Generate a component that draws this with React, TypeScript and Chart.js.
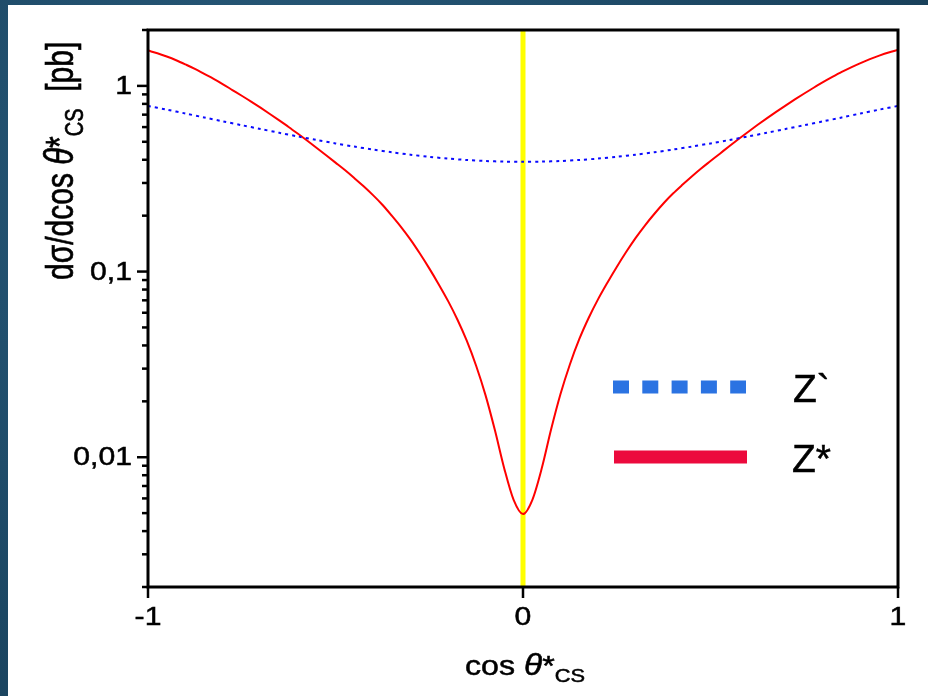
import { useEffect, useRef } from 'react';
import { Chart, registerables } from 'chart.js';

Chart.register(...registerables);

// cos(theta*_CS) bin centres (width 0.025)
const cosThetaBins = [
  -1, -0.975, -0.95, -0.925, -0.9, -0.875, -0.85, -0.825, -0.8, -0.775,
  -0.75, -0.725, -0.7, -0.675, -0.65, -0.625, -0.6, -0.575, -0.55, -0.525,
  -0.5, -0.475, -0.45, -0.425, -0.4, -0.375, -0.35, -0.325, -0.3, -0.275,
  -0.25, -0.225, -0.2, -0.175, -0.15, -0.125, -0.1, -0.075, -0.05, -0.025,
  0,
  0.025, 0.05, 0.075, 0.1, 0.125, 0.15, 0.175, 0.2, 0.225, 0.25,
  0.275, 0.3, 0.325, 0.35, 0.375, 0.4, 0.425, 0.45, 0.475, 0.5,
  0.525, 0.55, 0.575, 0.6, 0.625, 0.65, 0.675, 0.7, 0.725, 0.75,
  0.775, 0.8, 0.825, 0.85, 0.875, 0.9, 0.925, 0.95, 0.975, 1,
];

// Z* : dsigma/dcos [pb]
const zStarValues = [
  1.55, 1.5, 1.44, 1.375, 1.305, 1.235, 1.16, 1.09, 1.02, 0.95,
  0.885, 0.823, 0.763, 0.706, 0.652, 0.601, 0.552, 0.506, 0.463, 0.423,
  0.386, 0.352, 0.319, 0.288, 0.258, 0.229, 0.2, 0.1735, 0.1485, 0.125,
  0.104, 0.0855, 0.0695, 0.0552, 0.0424, 0.0311, 0.0216, 0.014, 0.0087, 0.00589,
  0.00494,
  0.0059, 0.00871, 0.01413, 0.02188, 0.0316, 0.0432, 0.0562, 0.0708, 0.0871, 0.1059,
  0.1274, 0.1514, 0.177, 0.2042, 0.2333, 0.263, 0.2931, 0.3251, 0.3589, 0.3936,
  0.4315, 0.4732, 0.5176, 0.5649, 0.6152, 0.6683, 0.7244, 0.7834, 0.8453, 0.9099,
  0.9772, 1.0471, 1.1169, 1.1885, 1.2589, 1.3274, 1.3932, 1.4555, 1.5136, 1.5631,
];

// Z` curve sample points
const cosThetaPrime = [
  -1, -0.95, -0.9, -0.85, -0.8, -0.75, -0.7, -0.65, -0.6, -0.55,
  -0.5, -0.45, -0.4, -0.35, -0.3, -0.25, -0.2, -0.15, -0.1, -0.05,
  0,
  0.05, 0.1, 0.15, 0.2, 0.25, 0.3, 0.35, 0.4, 0.45, 0.5,
  0.55, 0.6, 0.65, 0.7, 0.75, 0.8, 0.85, 0.9, 0.95, 1,
];
const zPrimeValues = [
  0.78, 0.745, 0.71, 0.676, 0.644, 0.614, 0.586, 0.559, 0.534, 0.511,
  0.49, 0.471, 0.454, 0.439, 0.426, 0.415, 0.406, 0.399, 0.394, 0.391,
  0.39,
  0.391, 0.394, 0.399, 0.406, 0.415, 0.426, 0.439, 0.454, 0.471, 0.49,
  0.511, 0.534, 0.559, 0.586, 0.614, 0.644, 0.676, 0.71, 0.745, 0.78,
];

// yellow marker at cos = 0
const markerX = [0, 0];
const markerY = [0.002, 2];

const xMin = -1;
const xMax = 1;
const yMin = 0.002;
const yMax = 2;

const xTicks = [-1, 0, 1];
const xTickLabels = ['-1', '0', '1'];
const yMajorTicks = [0.01, 0.1, 1];
const yTickLabels = ['0,01', '0,1', '1'];
const yDecades = [0.001, 0.01, 0.1, 1];
const yMinorMultipliers = [2, 3, 4, 5, 6, 7, 8, 9];
const legendLabels = ['Z`', 'Z*'];

const FONT = '"Liberation Sans", Arial, Helvetica, sans-serif';

function fillBold(ctx: CanvasRenderingContext2D, s: string, x: number, y: number) {
  ctx.fillText(s, x, y);
  ctx.lineWidth = 0.5;
  ctx.strokeText(s, x, y);
}

function drawText(
  ctx: CanvasRenderingContext2D,
  s: string,
  x: number,
  y: number,
  font: string,
  align: CanvasTextAlign,
  baseline: CanvasTextBaseline,
  sx = 1.16,
) {
  ctx.save();
  ctx.translate(x, y);
  ctx.scale(sx, 1);
  ctx.font = font;
  ctx.textAlign = align;
  ctx.textBaseline = baseline;
  fillBold(ctx, s, 0, 0);
  ctx.restore();
}

const framePlugin = {
  id: 'frameAndText',
  afterDatasetsDraw(chart: any) {
    const ctx: CanvasRenderingContext2D = chart.ctx;
    const { left, right, top, bottom } = chart.chartArea;
    const xs = chart.scales.x;
    const ys = chart.scales.y;
    ctx.save();
    ctx.fillStyle = '#000';
    ctx.strokeStyle = '#000';

    // frame
    ctx.lineWidth = 3;
    ctx.strokeRect(left, top, right - left, bottom - top);

    // y ticks
    ctx.lineWidth = 2.5;
    yDecades.forEach((d) => {
      [1, ...yMinorMultipliers].forEach((m) => {
        const v = m * d;
        if (v < yMin * 0.999 || v > yMax * 1.001) return;
        const py = ys.getPixelForValue(v);
        const len = m === 1 ? 11 : 6;
        ctx.beginPath();
        ctx.moveTo(left, py);
        ctx.lineTo(left - len, py);
        ctx.stroke();
      });
    });
    // x ticks
    xTicks.forEach((t) => {
      const px = xs.getPixelForValue(t);
      ctx.beginPath();
      ctx.moveTo(px, bottom);
      ctx.lineTo(px, bottom + 11);
      ctx.stroke();
    });

    // tick labels
    yMajorTicks.forEach((v, i) => {
      drawText(ctx, yTickLabels[i], left - 16, ys.getPixelForValue(v) + 1, `26px ${FONT}`, 'right', 'middle');
    });
    xTicks.forEach((t, i) => {
      drawText(ctx, xTickLabels[i], xs.getPixelForValue(t), bottom + 18, `26px ${FONT}`, 'center', 'top');
    });

    // x title: cos θ*_CS
    {
      const parts = [
        { s: 'cos ', f: `28px ${FONT}`, dy: 0 },
        { s: 'θ', f: `italic 29px ${FONT}`, dy: 0 },
        { s: '*', f: `28px ${FONT}`, dy: 0 },
        { s: 'CS', f: `19px ${FONT}`, dy: 7 },
      ];
      ctx.save();
      let total = 0;
      parts.forEach((p) => {
        ctx.font = p.f;
        total += ctx.measureText(p.s).width;
      });
      const cx = (left + right) / 2 + 2;
      ctx.translate(cx, bottom + 88);
      ctx.scale(1.15, 1);
      let x = -total / 2;
      ctx.textAlign = 'left';
      ctx.textBaseline = 'alphabetic';
      parts.forEach((p) => {
        ctx.font = p.f;
        fillBold(ctx, p.s, x, p.dy);
        x += ctx.measureText(p.s).width;
      });
      ctx.restore();
    }

    // y title: dσ/dcos θ*_CS [pb]
    {
      const parts = [
        { s: 'dσ/dcos ', f: `30px ${FONT}`, dy: 0 },
        { s: 'θ', f: `italic 31px ${FONT}`, dy: 0 },
        { s: '*', f: `30px ${FONT}`, dy: 0 },
        { s: 'CS', f: `20px ${FONT}`, dy: 8 },
        { s: '  [pb]', f: `30px ${FONT}`, dy: 0 },
      ];
      ctx.save();
      ctx.translate(left - 75, top + 250);
      ctx.scale(1.3, 1);
      ctx.rotate(-Math.PI / 2);
      ctx.textAlign = 'left';
      ctx.textBaseline = 'alphabetic';
      let x = 0;
      parts.forEach((p) => {
        ctx.font = p.f;
        fillBold(ctx, p.s, x, p.dy);
        x += ctx.measureText(p.s).width;
      });
      ctx.restore();
    }

    // legend
    const lx = left + 465;
    const ly1 = top + 357;
    const ly2 = top + 427;
    ctx.lineCap = 'butt';
    ctx.lineWidth = 13;
    ctx.strokeStyle = '#2B73E2';
    ctx.setLineDash([16, 13.3]);
    ctx.beginPath();
    ctx.moveTo(lx, ly1);
    ctx.lineTo(lx + 133, ly1);
    ctx.stroke();
    ctx.setLineDash([]);
    ctx.strokeStyle = '#EC0A3D';
    ctx.beginPath();
    ctx.moveTo(lx + 1, ly2);
    ctx.lineTo(lx + 134, ly2);
    ctx.stroke();
    ctx.fillStyle = '#000';
    ctx.strokeStyle = '#000';
    drawText(ctx, legendLabels[0], lx + 180, ly1 + 15, `39px ${FONT}`, 'left', 'alphabetic', 1);
    drawText(ctx, legendLabels[1], lx + 179, ly2 + 15, `39px ${FONT}`, 'left', 'alphabetic', 1);

    ctx.restore();
  },
};

export default function App() {
  const ref = useRef<HTMLCanvasElement>(null);

  useEffect(() => {
    const canvas = ref.current;
    if (!canvas) return;
    const chart = new Chart(canvas, {
      type: 'scatter',
      data: {
        datasets: [
          {
            label: 'Z*',
            data: cosThetaBins.map((x, i) => ({ x, y: zStarValues[i] })),
            showLine: true,
            cubicInterpolationMode: 'monotone',
            borderColor: '#ff0000',
            borderWidth: 2,
            pointRadius: 0,
            order: 1,
          },
          {
            label: 'Z`',
            data: cosThetaPrime.map((x, i) => ({ x, y: zPrimeValues[i] })),
            showLine: true,
            borderColor: '#0a0aff',
            borderWidth: 2,
            borderDash: [3, 4],
            pointRadius: 0,
            tension: 0.3,
            order: 0,
          },
          {
            label: 'marker',
            data: markerX.map((x, i) => ({ x, y: markerY[i] })),
            showLine: true,
            borderColor: '#ffff00',
            borderWidth: 5,
            pointRadius: 0,
            order: 3,
          },
        ],
      },
      options: {
        responsive: false,
        animation: false,
        devicePixelRatio: 1,
        layout: { padding: { left: 140, right: 30, top: 25, bottom: 109 } },
        scales: {
          x: { type: 'linear', min: xMin, max: xMax, display: false },
          y: { type: 'logarithmic', min: yMin, max: yMax, display: false },
        },
        plugins: { legend: { display: false }, tooltip: { enabled: false } },
      },
      plugins: [framePlugin],
    });
    return () => chart.destroy();
  }, []);

  return (
    <div
      style={{
        position: 'fixed',
        left: 0,
        top: 0,
        width: 928,
        height: 696,
        background: 'radial-gradient(circle at 30% 30%, #2a5d7e 0%, #1c4763 60%, #173c55 100%)',
        overflow: 'hidden',
      }}
    >
      <div style={{ position: 'absolute', left: 8, top: 5, width: 920, height: 691, background: '#fff' }}>
        <canvas ref={ref} width={920} height={691} style={{ display: 'block' }} />
      </div>
    </div>
  );
}
